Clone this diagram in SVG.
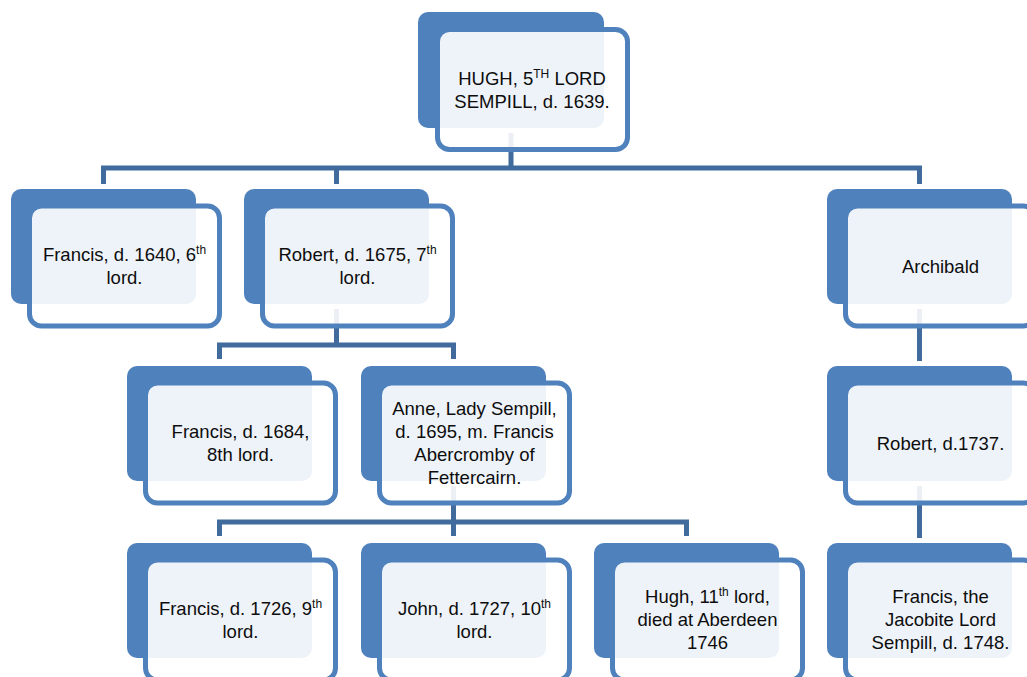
<svg xmlns="http://www.w3.org/2000/svg" width="1027" height="677" viewBox="0 0 1027 677">
<defs>
<style>
.back{fill:#4F81BD;}
.front{fill:#FFFFFF;fill-opacity:0.9;stroke:#4F81BD;stroke-width:5;}
.conn{fill:none;stroke:#416A9D;stroke-width:5;stroke-linejoin:miter;}
.t{font-family:"Liberation Sans",Arial,sans-serif;font-size:18.5px;fill:#0d0d0d;text-anchor:middle;}
.sup{font-size:12px;}
</style>
</defs>
<rect width="1027" height="677" fill="#FFFFFF"/>
<g id="backs">
<rect class="back" x="418" y="12" width="186" height="116" rx="10"/>
<rect class="back" x="11" y="189" width="185" height="115" rx="10"/>
<rect class="back" x="244" y="189" width="185" height="115" rx="10"/>
<rect class="back" x="827" y="189" width="185" height="115" rx="10"/>
<rect class="back" x="127" y="366" width="185" height="115" rx="10"/>
<rect class="back" x="361" y="366" width="185" height="115" rx="10"/>
<rect class="back" x="827" y="366" width="185" height="115" rx="10"/>
<rect class="back" x="127" y="543" width="185" height="115" rx="10"/>
<rect class="back" x="361" y="543" width="185" height="115" rx="10"/>
<rect class="back" x="594" y="543" width="185" height="115" rx="10"/>
<rect class="back" x="827" y="543" width="185" height="115" rx="10"/>
</g>
<g id="connectors">
<path class="conn" d="M511,133 V168"/>
<path class="conn" d="M103.5,184 V168 H919.5 V184"/>
<path class="conn" d="M336.5,168 V184"/>
<path class="conn" d="M336.5,309 V345"/>
<path class="conn" d="M219.5,359 V345 H453.5 V359"/>
<path class="conn" d="M453.5,486 V522"/>
<path class="conn" d="M219.5,536 V522 H686.5 V536"/>
<path class="conn" d="M453.5,522 V536"/>
<path class="conn" d="M919.5,309 V361"/>
<path class="conn" d="M919.5,486 V538"/>
</g>
<g id="hugh5">
<rect class="front" x="437.5" y="29.5" width="190" height="120" rx="12"/>
<text class="t" x="532" y="84.5">HUGH, 5<tspan class="sup" dy="-7">TH</tspan><tspan dy="7"> LORD</tspan></text>
<text class="t" x="532" y="107.5">SEMPILL, d. 1639.</text>
</g>
<g id="francis1640">
<rect class="front" x="29.5" y="206" width="190" height="120" rx="12"/>
<text class="t" x="124.5" y="260.5">Francis, d. 1640, 6<tspan class="sup" dy="-7">th</tspan></text>
<text class="t" x="124.5" y="283.5">lord.</text>
</g>
<g id="robert1675">
<rect class="front" x="262.5" y="206" width="190" height="120" rx="12"/>
<text class="t" x="357.5" y="260.5">Robert, d. 1675, 7<tspan class="sup" dy="-7">th</tspan></text>
<text class="t" x="357.5" y="283.5">lord.</text>
</g>
<g id="archibald">
<rect class="front" x="845.5" y="206" width="190" height="120" rx="12"/>
<text class="t" x="940.5" y="272.5">Archibald</text>
</g>
<g id="francis1684">
<rect class="front" x="145.5" y="383" width="190" height="120" rx="12"/>
<text class="t" x="240.5" y="437.5">Francis, d. 1684,</text>
<text class="t" x="240.5" y="460.5">8th lord.</text>
</g>
<g id="anne">
<rect class="front" x="379.5" y="383" width="190" height="120" rx="12"/>
<text class="t" x="474.5" y="414.5">Anne, Lady Sempill,</text>
<text class="t" x="474.5" y="437.5">d. 1695, m. Francis</text>
<text class="t" x="474.5" y="460.5">Abercromby of</text>
<text class="t" x="474.5" y="483.5">Fettercairn.</text>
</g>
<g id="robert1737">
<rect class="front" x="845.5" y="383" width="190" height="120" rx="12"/>
<text class="t" x="940.5" y="450">Robert, d.1737.</text>
</g>
<g id="francis1726">
<rect class="front" x="145.5" y="560" width="190" height="120" rx="12"/>
<text class="t" x="240.5" y="615">Francis, d. 1726, 9<tspan class="sup" dy="-7">th</tspan></text>
<text class="t" x="240.5" y="638">lord.</text>
</g>
<g id="john1727">
<rect class="front" x="379.5" y="560" width="190" height="120" rx="12"/>
<text class="t" x="474.5" y="615">John, d. 1727, 10<tspan class="sup" dy="-7">th</tspan></text>
<text class="t" x="474.5" y="638">lord.</text>
</g>
<g id="hugh11">
<rect class="front" x="612.5" y="560" width="190" height="120" rx="12"/>
<text class="t" x="707.5" y="603">Hugh, 11<tspan class="sup" dy="-7">th</tspan><tspan dy="7"> lord,</tspan></text>
<text class="t" x="707.5" y="626">died at Aberdeen</text>
<text class="t" x="707.5" y="649">1746</text>
</g>
<g id="francisJacobite">
<rect class="front" x="845.5" y="560" width="190" height="120" rx="12"/>
<text class="t" x="940.5" y="603">Francis, the</text>
<text class="t" x="940.5" y="626">Jacobite Lord</text>
<text class="t" x="940.5" y="649">Sempill, d. 1748.</text>
</g>
</svg>
